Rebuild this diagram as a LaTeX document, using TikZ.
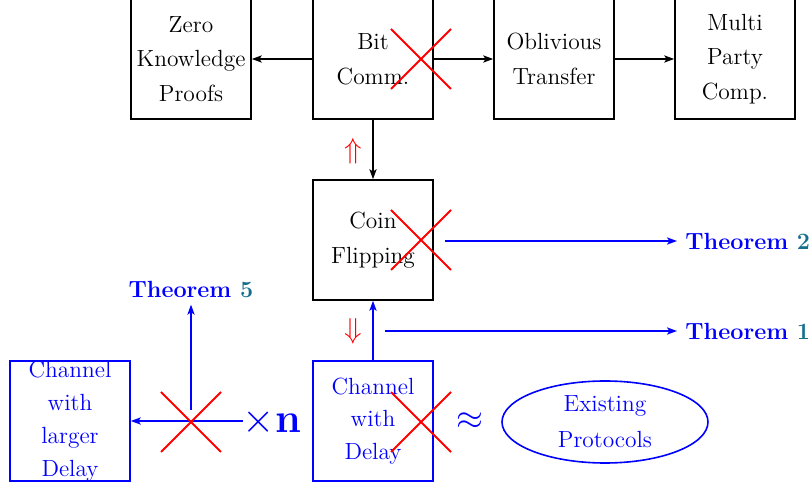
\documentclass[tikz,border=0pt]{standalone}
\usetikzlibrary{shapes.geometric,arrows.meta}
\definecolor{thmnum}{RGB}{20,110,140}
\newcommand\msz{\fontsize{11.7pt}{17.3pt}\selectfont}
\newcommand\csz{\fontsize{11.7pt}{16.4pt}\selectfont}
\begin{document}
\begin{tikzpicture}[x=0.5pt,y=-0.5pt,
  box/.style={draw,line width=0.8pt,minimum width=60pt,minimum height=60pt,inner sep=0pt,align=center,font=\msz},
  bbox/.style={box,draw=blue,text=blue,font=\csz},
  arr/.style={line width=0.8pt,-{Stealth[length=5pt,width=3.6pt,inset=1.2pt]}},
  barr/.style={arr,draw=blue},
  cross/.style={draw=red,line width=1pt},
  thm/.style={text=blue,font=\msz\bfseries,inner sep=0pt}]
\useasboundingbox (0,0) rectangle (810,486);
% top row
\node[box] (zkp) at (191,59) {Zero\\Knowledge\\Proofs};
\node[box] (bit) at (373,59) {Bit\\Comm.};
\node[box] (ot)  at (554,59) {Oblivious\\Transfer};
\node[box] (mpc) at (735,59) {Multi\\Party\\Comp.};
\node[box] (coin) at (373,240) {Coin\\Flipping};
\node[bbox] (chd) at (373,421) {Channel\\with\\Delay};
\node[bbox] (chl) at (70,421) {Channel\\with\\larger\\Delay};
\node[draw=blue,line width=0.8pt,ellipse,minimum width=103pt,minimum height=41pt,inner sep=0pt,text=blue,align=center,font=\fontsize{11.7pt}{18pt}\selectfont] (ell) at (605,422) {Existing\\Protocols};
% theorems
\node[thm,anchor=west] (t2) at (685,241) {Theorem \textcolor{thmnum}{2}};
\node[thm,anchor=west] (t1) at (685,331) {Theorem \textcolor{thmnum}{1}};
\node[thm] (t5) at (191,290) {Theorem \textcolor{thmnum}{5}};
% symbols
\node[text=blue,inner sep=0pt,anchor=base,font=\fontsize{20pt}{24pt}\selectfont] (xn) at (272,433) {$\times\mathbf{n}$};
\node[text=blue,inner sep=0pt,font=\fontsize{17pt}{20pt}\selectfont] (apx) at (470,421) {$\approx$};
\node[text=red,inner sep=0pt,font=\fontsize{14pt}{16pt}\selectfont] (up) at (353,151) {$\Uparrow$};
\node[text=red,inner sep=0pt,font=\fontsize{14pt}{16pt}\selectfont] (dn) at (353,331) {$\Downarrow$};
% black connectors
\draw[arr] (bit.west) -- (zkp.east);
\draw[arr] (bit.east) -- (ot.west);
\draw[arr] (ot.east) -- (mpc.west);
\draw[arr] (bit.south) -- (coin.north);
% blue connectors
\coordinate (c2) at (445,241);
\coordinate (c1) at (385,331);
\coordinate (c5) at (191,410);
\draw[barr] (chd.north) -- (coin.south);
\draw[barr,shorten >=4pt] (c2) -- (t2.west);
\draw[barr,shorten >=4pt] (c1) -- (t1.west);
\draw[barr] (xn.west |- chl.east) -- (chl.east);
\draw[barr,shorten >=3pt] (c5) -- (t5.south);
% red crosses
\foreach \cx/\cy in {421/59,421/240,421/422,191/422}{
  \draw[cross] (\cx-30,\cy-30) -- (\cx+30,\cy+30);
  \draw[cross] (\cx-30,\cy+30) -- (\cx+30,\cy-30);
}
\end{tikzpicture}
\end{document}
